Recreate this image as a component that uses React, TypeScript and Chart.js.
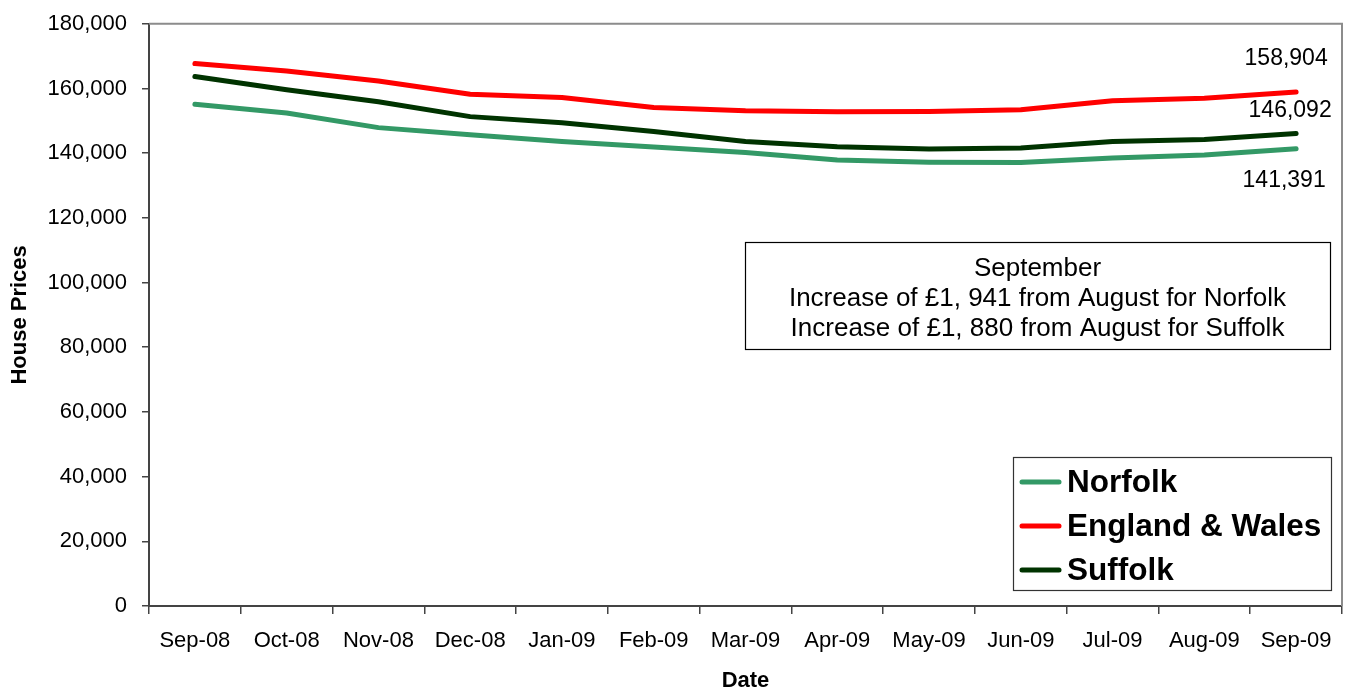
import React, { useEffect, useRef } from "react";
import { Chart, registerables } from "chart.js";

Chart.register(...registerables);

const categories = [
  "Sep-08", "Oct-08", "Nov-08", "Dec-08", "Jan-09", "Feb-09", "Mar-09",
  "Apr-09", "May-09", "Jun-09", "Jul-09", "Aug-09", "Sep-09",
];
const norfolk = [155100, 152400, 147900, 145700, 143600, 141900, 140200, 137900, 137200, 137100, 138500, 139450, 141391];
const englandWales = [167700, 165400, 162300, 158200, 157200, 154100, 153100, 152800, 152900, 153400, 156200, 157000, 158904];
const suffolk = [163700, 159600, 155900, 151300, 149400, 146700, 143600, 142000, 141300, 141600, 143600, 144212, 146092];

const seriesNames = ["Norfolk", "England & Wales", "Suffolk"];
const seriesColors = ["#339966", "#FF0000", "#003300"];

const yMin = 0;
const yMax = 180000;
const yStep = 20000;

const noteLines = [
  "September",
  "Increase of £1, 941 from August for Norfolk",
  "Increase of £1, 880 from August for Suffolk",
];

const FONT = "'Liberation Sans', Arial, Helvetica, sans-serif";

const fmt = (v: number) => v.toLocaleString("en-US");

const framePlugin = {
  id: "frame",
  beforeDatasetsDraw(chart: any) {
    const { ctx, chartArea } = chart;
    ctx.save();
    ctx.strokeStyle = "#8c8c8c";
    ctx.lineWidth = 2;
    ctx.beginPath();
    ctx.moveTo(chartArea.left, chartArea.top);
    ctx.lineTo(chartArea.right, chartArea.top);
    ctx.lineTo(chartArea.right, chartArea.bottom);
    ctx.stroke();
    ctx.restore();
  },
};

const labelOffsets = [
  { dx: -12, dy: 32 },
  { dx: -10, dy: -33 },
  { dx: -6, dy: -23 },
];

const endLabelsPlugin = {
  id: "endLabels",
  afterDatasetsDraw(chart: any) {
    const { ctx } = chart;
    ctx.save();
    ctx.font = `23px ${FONT}`;
    ctx.fillStyle = "#000";
    ctx.textAlign = "center";
    ctx.textBaseline = "middle";
    chart.data.datasets.forEach((ds: any, i: number) => {
      const meta = chart.getDatasetMeta(i);
      const last = meta.data[meta.data.length - 1];
      const val = ds.data[ds.data.length - 1];
      const off = labelOffsets[i];
      ctx.fillText(fmt(val), last.x + off.dx, last.y + off.dy);
    });
    ctx.restore();
  },
};

const noteBoxPlugin = {
  id: "noteBox",
  afterDatasetsDraw(chart: any) {
    const { ctx } = chart;
    const x0 = 745, y0 = 242, x1 = 1330, y1 = 349;
    ctx.save();
    ctx.fillStyle = "#fff";
    ctx.fillRect(x0, y0, x1 - x0, y1 - y0);
    ctx.strokeStyle = "#000";
    ctx.lineWidth = 1.2;
    ctx.strokeRect(x0 + 0.5, y0 + 0.5, x1 - x0, y1 - y0);
    ctx.fillStyle = "#000";
    ctx.font = `26px ${FONT}`;
    ctx.textAlign = "center";
    ctx.textBaseline = "middle";
    const cx = (x0 + x1) / 2;
    noteLines.forEach((t, i) => ctx.fillText(t, cx, 269 + i * 30));
    ctx.restore();
  },
};

const legendPlugin = {
  id: "boxLegend",
  afterDatasetsDraw(chart: any) {
    const { ctx } = chart;
    const x0 = 1013, y0 = 457, x1 = 1331, y1 = 590;
    ctx.save();
    ctx.fillStyle = "#fff";
    ctx.fillRect(x0, y0, x1 - x0, y1 - y0);
    ctx.strokeStyle = "#333";
    ctx.lineWidth = 1.2;
    ctx.strokeRect(x0 + 0.5, y0 + 0.5, x1 - x0, y1 - y0);
    ctx.font = `bold 31.5px ${FONT}`;
    ctx.textAlign = "left";
    ctx.textBaseline = "middle";
    chart.data.datasets.forEach((ds: any, i: number) => {
      const cy = 482 + i * 44;
      ctx.strokeStyle = ds.borderColor;
      ctx.lineWidth = 5;
      ctx.lineCap = "round";
      ctx.beginPath();
      ctx.moveTo(1022, cy);
      ctx.lineTo(1059, cy);
      ctx.stroke();
      ctx.fillStyle = "#000";
      ctx.fillText(ds.label, 1067, cy + 1);
    });
    ctx.restore();
  },
};

export default function App() {
  const canvasRef = useRef<HTMLCanvasElement | null>(null);

  useEffect(() => {
    document.body.style.margin = "0";
    const canvas = canvasRef.current;
    if (!canvas) return;
    const seriesData = [norfolk, englandWales, suffolk];
    const chart = new Chart(canvas, {
      type: "line",
      data: {
        labels: categories,
        datasets: seriesData.map((d, i) => ({
          label: seriesNames[i],
          data: d,
          borderColor: seriesColors[i],
          backgroundColor: seriesColors[i],
          borderWidth: 5,
          pointRadius: 0,
          tension: 0,
          fill: false,
          borderCapStyle: "round" as const,
          borderJoinStyle: "round" as const,
        })),
      },
      options: {
        responsive: false,
        animation: false,
        layout: { padding: { top: 22, right: 6, left: 0, bottom: 0 } },
        plugins: {
          legend: { display: false },
          tooltip: { enabled: false },
          title: { display: false },
        },
        scales: {
          x: {
            type: "category",
            offset: true,
            grid: {
              offset: true,
              drawOnChartArea: false,
              drawTicks: true,
              tickLength: 8,
              color: "#444",
              lineWidth: 1.5,
            },
            border: { display: true, color: "#444", width: 2 },
            ticks: {
              color: "#000",
              font: { family: FONT, size: 22 },
              padding: 14,
              maxRotation: 0,
              autoSkip: false,
            },
            title: {
              display: true,
              text: "Date",
              color: "#000",
              font: { family: FONT, size: 22, weight: "bold", lineHeight: 1 },
              padding: { top: 0, bottom: 0 },
            },
            afterFit(scale: any) {
              scale.height = 86;
            },
          },
          y: {
            min: yMin,
            max: yMax,
            grid: {
              drawOnChartArea: false,
              drawTicks: true,
              tickLength: 7,
              color: "#444",
              lineWidth: 1.5,
            },
            border: { display: true, color: "#444", width: 2 },
            ticks: {
              stepSize: yStep,
              color: "#000",
              font: { family: FONT, size: 22, lineHeight: 0.8 },
              padding: 15,
              callback: (v: any) => fmt(Number(v)),
            },
            title: {
              display: true,
              text: "House Prices",
              color: "#000",
              font: { family: FONT, size: 22, weight: "bold", lineHeight: 1.2 },
              padding: { top: 7, bottom: 0 },
            },
            afterFit(scale: any) {
              scale.width = 149;
            },
          },
        },
      },
      plugins: [framePlugin, endLabelsPlugin, noteBoxPlugin, legendPlugin],
    });
    return () => chart.destroy();
  }, []);

  return (
    <div style={{ width: 1348, height: 692, background: "#fff" }}>
      <canvas ref={canvasRef} width={1348} height={692} style={{ display: "block" }} />
    </div>
  );
}
